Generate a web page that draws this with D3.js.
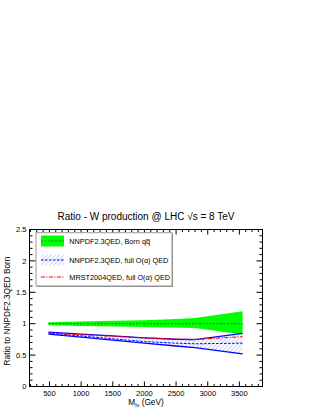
<!DOCTYPE html>
<html>
<head>
<meta charset="utf-8">
<script src="https://cdn.jsdelivr.net/npm/d3@7"></script>
<style>
  body { margin: 0; background: #fff; }
  text { font-family: "Liberation Sans", Arial, sans-serif; }
</style>
</head>
<body>
<svg id="chart" width="315" height="407"></svg>
<script>
// M_lnu bin positions (GeV)
const mass = [485, 1000, 1500, 2000, 2500, 2800, 3550];

// NNPDF2.3QED Born qqbar band (ratio to itself)
const bornCentral = [1, 1, 1, 1, 1, 1, 1];
const bornUpper = [1.025, 1.035, 1.045, 1.055, 1.075, 1.09, 1.2];
const bornLower = [0.975, 0.965, 0.957, 0.948, 0.938, 0.93, 0.83];

// NNPDF2.3QED full O(alpha) QED band
const qedCentral = [0.85, 0.805, 0.76, 0.715, 0.69, 0.68, 0.69];
const qedUpper = [0.865, 0.835, 0.805, 0.775, 0.752, 0.745, 0.847];
const qedLower = [0.835, 0.785, 0.74, 0.69, 0.645, 0.618, 0.518];

// MRST2004QED full O(alpha) QED
const mrst = [0.85, 0.825, 0.8, 0.772, 0.755, 0.75, 0.793];

const xTicks = [500, 1000, 1500, 2000, 2500, 3000, 3500];
const yTicks = [0, 0.5, 1, 1.5, 2, 2.5];
const legendLabels = ['NNPDF2.3QED, Born q\u0071\u0305', 'NNPDF2.3QED, full O(\u03b1) QED', 'MRST2004QED, full O(\u03b1) QED'];

const frame = { left: 29.5, right: 262.5, top: 229.5, bottom: 386.5 };
const svg = d3.select('#chart');

const x = d3.scaleLinear().domain([185, 3865]).range([frame.left, frame.right]);
const y = d3.scaleLinear().domain([0, 2.5]).range([frame.bottom, frame.top]);

// hatch pattern for QED band
const defs = svg.append('defs');
const hatch = defs.append('pattern')
  .attr('id', 'hatch')
  .attr('patternUnits', 'userSpaceOnUse')
  .attr('width', 3)
  .attr('height', 3)
  .attr('patternTransform', 'rotate(45)');
hatch.append('line')
  .attr('x1', 0).attr('y1', 0).attr('x2', 0).attr('y2', 3)
  .attr('stroke', '#93a8f0').attr('stroke-width', 1);

const rows = mass.map((m, i) => ({
  m,
  bc: bornCentral[i], bu: bornUpper[i], bl: bornLower[i],
  qc: qedCentral[i], qu: qedUpper[i], ql: qedLower[i],
  r: mrst[i]
}));

const area = (lo, hi) => d3.area().x((d) => x(d.m)).y0((d) => y(d[lo])).y1((d) => y(d[hi]));
const line = (key) => d3.line().x((d) => x(d.m)).y((d) => y(d[key]));

const plot = svg.append('g');

// Born band
plot.append('path').datum(rows).attr('d', area('bl', 'bu')).attr('fill', '#00ff00');
plot.append('path').datum(rows).attr('d', line('bc'))
  .attr('fill', 'none').attr('stroke', '#00a000').attr('stroke-width', 1.2).attr('stroke-dasharray', '2,1.5');

// QED band
plot.append('path').datum(rows).attr('d', area('ql', 'qu')).attr('fill', 'url(#hatch)');
plot.append('path').datum(rows).attr('d', line('qu'))
  .attr('fill', 'none').attr('stroke', '#0000ff').attr('stroke-width', 1.3);
plot.append('path').datum(rows).attr('d', line('ql'))
  .attr('fill', 'none').attr('stroke', '#0000ff').attr('stroke-width', 1.3);
plot.append('path').datum(rows).attr('d', line('qc'))
  .attr('fill', 'none').attr('stroke', '#0000ff').attr('stroke-width', 1).attr('stroke-dasharray', '2.5,1.5');

// MRST
plot.append('path').datum(rows).attr('d', line('r'))
  .attr('fill', 'none').attr('stroke', '#ff0000').attr('stroke-width', 1.1).attr('stroke-dasharray', '4,1.5,1,1.5');

// frame
svg.append('rect')
  .attr('x', frame.left).attr('y', frame.top)
  .attr('width', frame.right - frame.left).attr('height', frame.bottom - frame.top)
  .attr('fill', 'none').attr('stroke', '#000').attr('stroke-width', 1);

// ticks on all four sides
const ticks = svg.append('g').attr('stroke', '#000').attr('stroke-width', 1);
const xMinor = d3.range(200, 3865, 100);
xMinor.forEach((v) => {
  const len = v % 500 === 0 ? 5 : 2.5;
  ticks.append('line').attr('x1', x(v)).attr('x2', x(v)).attr('y1', frame.bottom).attr('y2', frame.bottom - len);
  ticks.append('line').attr('x1', x(v)).attr('x2', x(v)).attr('y1', frame.top).attr('y2', frame.top + len);
});
const yMinor = d3.range(0, 25).map((i) => i / 10).concat([2.5]);
yMinor.forEach((v, i) => {
  const len = i % 5 === 0 ? 6 : 3;
  ticks.append('line').attr('x1', frame.left).attr('x2', frame.left + len).attr('y1', y(v)).attr('y2', y(v));
  ticks.append('line').attr('x1', frame.right).attr('x2', frame.right - len).attr('y1', y(v)).attr('y2', y(v));
});

// tick labels
svg.append('g').selectAll('text').data(xTicks).join('text')
  .attr('x', (d) => x(d)).attr('y', 396)
  .attr('text-anchor', 'middle').attr('font-size', 7.5).text((d) => d);
svg.append('g').selectAll('text').data(yTicks).join('text')
  .attr('x', frame.left - 3).attr('y', (d) => y(d)).attr('dy', '0.35em')
  .attr('text-anchor', 'end').attr('font-size', 7.5).text((d) => d);

// axis titles
const xt = svg.append('text').attr('x', 146).attr('y', 404.5).attr('text-anchor', 'middle').attr('font-size', 8.3);
xt.append('tspan').text('M');
xt.append('tspan').attr('font-size', 5.8).attr('dy', 2).text('l\u03bd');
xt.append('tspan').attr('dy', -2).text(' (GeV)');

svg.append('text')
  .attr('transform', 'translate(9.5,311) rotate(-90)')
  .attr('text-anchor', 'middle').attr('font-size', 8.3)
  .text('Ratio to NNPDF2.3QED Born');

// title
svg.append('text').attr('x', 146).attr('y', 219.5).attr('text-anchor', 'middle').attr('font-size', 10)
  .text('Ratio - W production @ LHC \u221as = 8 TeV');

// legend
const lg = svg.append('g');
lg.append('rect').attr('x', 37).attr('y', 233.7).attr('width', 136).attr('height', 53.3).attr('fill', '#888');
lg.append('rect').attr('x', 36).attr('y', 232.7).attr('width', 136).attr('height', 53.3)
  .attr('fill', '#fff').attr('stroke', '#999').attr('stroke-width', 1);

const rowY = [241, 260, 277];
lg.append('rect').attr('x', 41).attr('y', 235.5).attr('width', 23).attr('height', 11).attr('fill', '#00ff00');
lg.append('line').attr('x1', 41).attr('x2', 64).attr('y1', rowY[0]).attr('y2', rowY[0])
  .attr('stroke', '#00a000').attr('stroke-width', 1.2).attr('stroke-dasharray', '2,1.5');
lg.append('rect').attr('x', 41).attr('y', 254.5).attr('width', 23).attr('height', 11).attr('fill', 'url(#hatch)');
lg.append('line').attr('x1', 41).attr('x2', 64).attr('y1', rowY[1]).attr('y2', rowY[1])
  .attr('stroke', '#0000ff').attr('stroke-width', 1).attr('stroke-dasharray', '2.5,1.5');
lg.append('line').attr('x1', 41).attr('x2', 64).attr('y1', rowY[2]).attr('y2', rowY[2])
  .attr('stroke', '#ff0000').attr('stroke-width', 1.1).attr('stroke-dasharray', '4,1.5,1,1.5');

lg.selectAll('text.lab').data(legendLabels).join('text')
  .attr('class', 'lab')
  .attr('x', 69.3).attr('y', (d, i) => rowY[i]).attr('dy', '0.35em')
  .attr('font-size', 7.3).text((d) => d);
</script>
</body>
</html>
